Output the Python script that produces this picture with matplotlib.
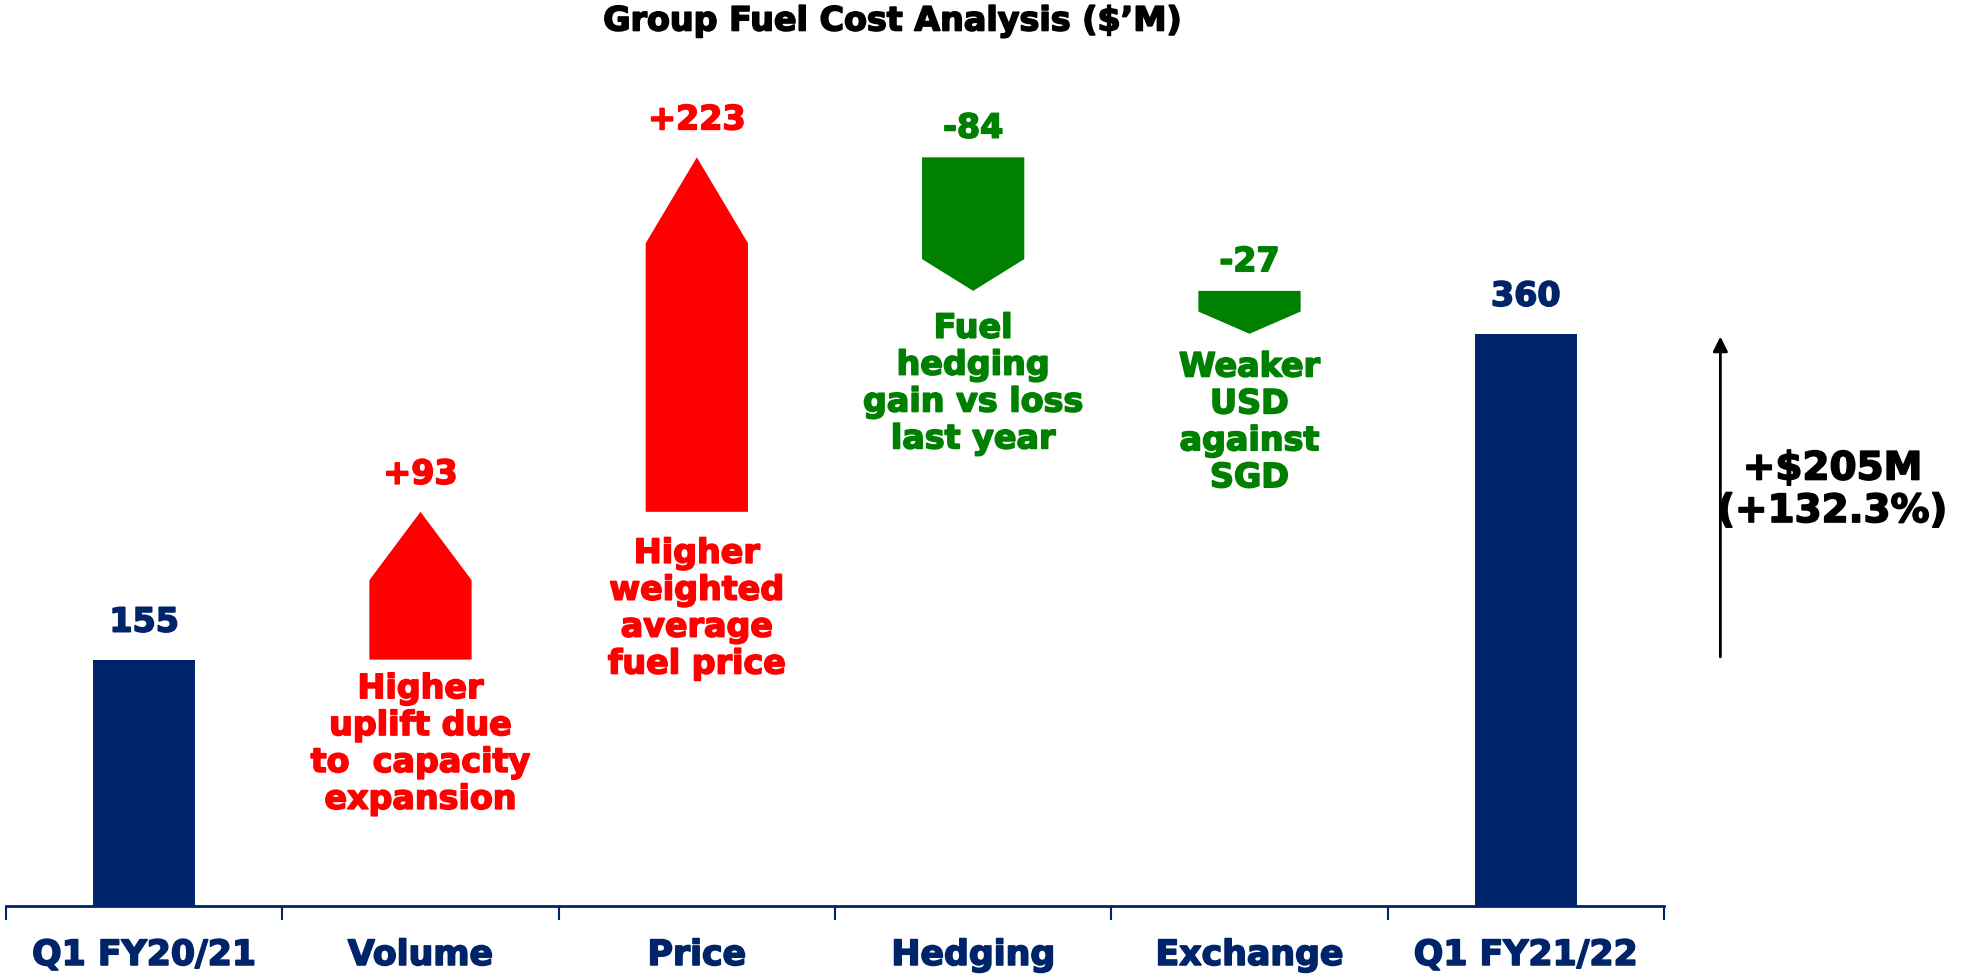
import matplotlib.pyplot as plt
from matplotlib.patches import Polygon
import matplotlib.patheffects as pe

categories = ["Q1 FY20/21", "Volume", "Price", "Hedging", "Exchange", "Q1 FY21/22"]
start_value = 155
changes = [93, 223, -84, -27]
end_value = 360
change_labels = ["+93", "+223", "-84", "-27"]
notes = ["Higher\nuplift due\nto  capacity\nexpansion",
         "Higher\nweighted\naverage\nfuel price",
         "Fuel\nhedging\ngain vs loss\nlast year",
         "Weaker\nUSD\nagainst\nSGD"]
total_label = "+$205M\n(+132.3%)"

NAVY = "#002469"
RED = "#ff0000"
GREEN = "#008000"

plt.rcParams["font.family"] = "DejaVu Sans"
plt.rcParams["font.weight"] = "bold"


def heavy(c):
    # fake a heavier bold, the original font is chunkier than DejaVu Bold
    return [pe.withStroke(linewidth=1.2, foreground=c)]


fig = plt.figure(figsize=(19.62, 9.77), dpi=100)
ax = fig.add_axes([6 / 1962, 1 - 906 / 977, 1658 / 1962, 906 / 977])
ax.set_xlim(-0.5, 5.5)
ax.set_ylim(0, 570)

w = 0.37
head_len = [43, 54, 20, 14]   # arrow head heights, in $M
note_gap = [9, 18, 15, 12]    # gap below arrow (pt)

# end bars
ax.bar([0, 5], [start_value, end_value], width=w, color=NAVY)
for x, v in [(0, start_value), (5, end_value)]:
    ax.annotate(str(v), (x, v), xytext=(0, 27), textcoords="offset points",
                ha="center", va="center", fontsize=24, color=NAVY,
                path_effects=heavy(NAVY))

# arrows
level = start_value
for i, d in enumerate(changes):
    x = i + 1
    a, b = level, level + d
    h = head_len[i] if d > 0 else -head_len[i]
    pts = [(x - w / 2, a), (x + w / 2, a), (x + w / 2, b - h), (x, b),
           (x - w / 2, b - h)]
    col = RED if d > 0 else GREEN
    ax.add_patch(Polygon(pts, closed=True, color=col, lw=0))
    top = max(a, b)
    bot = min(a, b)
    off = 27 if d > 0 else 21
    ax.annotate(change_labels[i], (x, top), xytext=(0, off),
                textcoords="offset points", ha="center", va="center",
                fontsize=24, color=col, path_effects=heavy(col))
    ax.annotate(notes[i], (x, bot), xytext=(0, -note_gap[i]),
                textcoords="offset points", ha="center", va="top",
                fontsize=24, color=col, linespacing=1.15,
                path_effects=heavy(col))
    level = b

# total change arrow
ax.annotate("", xy=(5.704, end_value), xytext=(5.704, start_value),
            arrowprops=dict(arrowstyle="-|>", color="black", lw=2,
                            mutation_scale=22), annotation_clip=False)
ax.annotate(total_label, (6.11, (start_value + end_value) / 2),
            xytext=(0, 5), textcoords="offset points", ha="center",
            va="center", fontsize=28, color="black", annotation_clip=False,
            linespacing=1.15, path_effects=heavy("black"))

# axis
for s in ["left", "right", "top"]:
    ax.spines[s].set_visible(False)
ax.spines["bottom"].set_color(NAVY)
ax.spines["bottom"].set_linewidth(2)
ax.set_yticks([])
ax.set_xticks(range(len(categories)))
ax.set_xticklabels(categories, fontsize=25, color=NAVY)
for t in ax.get_xticklabels():
    t.set_path_effects(heavy(NAVY))
ax.tick_params(axis="x", which="major", length=0, pad=23)
ax.set_xticks([i - 0.5 for i in range(len(categories) + 1)], minor=True)
ax.tick_params(axis="x", which="minor", length=10, width=1.5, color=NAVY)

fig.text(0.455, 1 - 21 / 977, "Group Fuel Cost Analysis ($\u2019M)",
         ha="center", va="center", fontsize=24, color="black",
         path_effects=heavy("black"))

fig.savefig("out.png", dpi=100)
